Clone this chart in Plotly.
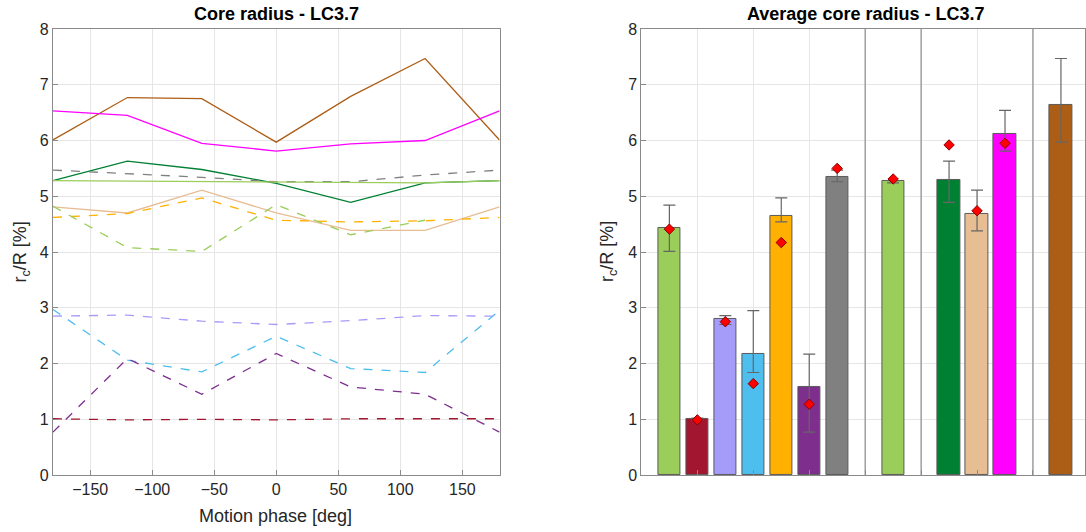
import plotly.graph_objects as go

# ---------------- data ----------------
phase = [-180, -120, -60, 0, 60, 120, 180]

line_names = ["brown", "magenta", "dkgreen", "gray", "ltgreen", "tan", "orange",
              "ltgreen_d", "ltblue", "lavender", "purple", "dkred"]
line_vals = {
    "brown":     [6.01, 6.77, 6.75, 5.97, 6.79, 7.47, 6.01],
    "magenta":   [6.53, 6.45, 5.95, 5.81, 5.94, 6.00, 6.53],
    "dkgreen":   [5.28, 5.63, 5.48, 5.23, 4.89, 5.24, 5.28],
    "gray":      [5.47, 5.41, 5.34, 5.26, 5.26, 5.38, 5.47],
    "ltgreen":   [5.28, 5.27, 5.27, 5.26, 5.25, 5.24, 5.28],
    "tan":       [4.81, 4.70, 5.11, 4.70, 4.39, 4.39, 4.81],
    "orange":    [4.62, 4.69, 4.97, 4.57, 4.54, 4.56, 4.62],
    "ltgreen_d": [4.82, 4.08, 4.01, 4.85, 4.31, 4.57, None],
    "ltblue":    [2.97, 2.06, 1.85, 2.49, 1.91, 1.84, 2.95],
    "lavender":  [2.85, 2.87, 2.76, 2.70, 2.77, 2.86, 2.85],
    "purple":    [0.77, 2.09, 1.45, 2.18, 1.58, 1.45, 0.77],
    "dkred":     [1.01, 0.99, 1.00, 0.99, 1.01, 1.01, 1.01],
}
line_dash = {
    "brown": "solid", "magenta": "solid", "dkgreen": "solid", "gray": "dash",
    "ltgreen": "solid", "tan": "solid", "orange": "dash", "ltgreen_d": "dash",
    "ltblue": "dash", "lavender": "dash", "purple": "dash", "dkred": "dash",
}
colors = {
    "brown": "#AD5E16", "magenta": "#FF00FF", "dkgreen": "#008033", "gray": "#808080",
    "ltgreen": "#9BCD5B", "tan": "#E7BD93", "orange": "#FFB000", "ltgreen_d": "#9BCD5B",
    "ltblue": "#4DBEEE", "lavender": "#A59CFA", "purple": "#7E2F8E", "dkred": "#A2162F",
}

# bar chart
bar_pos = [1, 2, 3, 4, 5, 6, 7, 9, 11, 12, 13, 15]
bar_key = ["ltgreen_d", "dkred", "lavender", "ltblue", "orange", "purple", "gray",
           "ltgreen", "dkgreen", "tan", "magenta", "brown"]
bar_mean = [4.44, 1.00, 2.80, 2.17, 4.65, 1.58, 5.35, 5.27, 5.29, 4.68, 6.11, 6.63]
bar_max = [4.84, 1.02, 2.86, 2.95, 4.97, 2.17, 5.47, 5.28, 5.63, 5.11, 6.54, 7.47]
bar_min = [4.01, 0.99, 2.70, 1.84, 4.54, 0.77, 5.26, 5.24, 4.89, 4.38, 5.81, 5.97]
diamond = [4.41, 0.99, 2.75, 1.64, 4.17, 1.27, 5.50, 5.31, 5.92, 4.74, 5.95, None]
separators = [8, 10, 14]

# ---------------- figure ----------------
FONT = "Liberation Sans, Arial, sans-serif"
TXT = "#262626"
AX = "#8a8a8a"
GRID = "#e6e6e6"

fig = go.Figure()

for k in line_names:
    fig.add_trace(go.Scatter(
        x=phase, y=line_vals[k], mode="lines",
        line=dict(color=colors[k], width=1.3, dash=line_dash[k]),
        xaxis="x", yaxis="y", showlegend=False, connectgaps=False))

fig.add_trace(go.Bar(
    x=bar_pos, y=bar_mean, width=0.8,
    marker=dict(color=[colors[k] for k in bar_key], line=dict(color="#5a5a5a", width=1)),
    error_y=dict(type="data", symmetric=False,
                 array=[a - m for a, m in zip(bar_max, bar_mean)],
                 arrayminus=[m - b for m, b in zip(bar_mean, bar_min)],
                 color="#666666", thickness=1.2, width=6),
    xaxis="x2", yaxis="y2", showlegend=False))

fig.add_trace(go.Scatter(
    x=bar_pos, y=diamond, mode="markers",
    marker=dict(symbol="diamond", size=8, color="#FF0000",
                line=dict(color="#8B0000", width=1)),
    xaxis="x2", yaxis="y2", showlegend=False))

for s in separators:
    fig.add_shape(type="line", xref="x2", yref="y2", x0=s, x1=s, y0=0, y1=8,
                  line=dict(color="#8c8c8c", width=1.2))

common_axis = dict(showline=True, linecolor=AX, linewidth=1, mirror=True,
                   ticks="inside", ticklen=5, tickcolor=AX,
                   showgrid=True, gridcolor=GRID, gridwidth=1, zeroline=False,
                   tickfont=dict(family=FONT, size=16, color=TXT))


def fy(px):
    # vertical paper fraction for a target pixel row
    return 1 - (px - 8) / 516


ydom = [fy(476), fy(29)]
fig.update_layout(
    width=1086, height=532,
    margin=dict(l=0, r=0, t=0, b=0),
    paper_bgcolor="white", plot_bgcolor="white",
    bargap=0,
    xaxis=dict(domain=[53 / 1086, 500 / 1086], range=[-180, 180],
               tickvals=[-150, -100, -50, 0, 50, 100, 150], anchor="y", **common_axis),
    yaxis=dict(domain=ydom, range=[0, 8], dtick=1, anchor="x", **common_axis),
    xaxis2=dict(domain=[642 / 1086, 1.0], range=[0, 15.86],
                tickvals=[0, 2, 4, 6, 8, 10, 12, 14, 16], showticklabels=False,
                anchor="y2", **common_axis),
    yaxis2=dict(domain=ydom, range=[0, 8], dtick=1, anchor="x2", **common_axis),
    annotations=[
        dict(text="<b>Core radius - LC3.7</b>", x=277 / 1086, y=fy(14),
             xref="paper", yref="paper", showarrow=False,
             font=dict(family=FONT, size=18, color="black"), xanchor="center", yanchor="middle"),
        dict(text="<b>Average core radius - LC3.7</b>", x=866 / 1086, y=fy(14),
             xref="paper", yref="paper", showarrow=False,
             font=dict(family=FONT, size=18, color="black"), xanchor="center", yanchor="middle"),
        dict(text="Motion phase [deg]", x=276 / 1086, y=fy(517),
             xref="paper", yref="paper", showarrow=False,
             font=dict(family=FONT, size=18, color=TXT), xanchor="center", yanchor="middle"),
        dict(text="r<sub>c</sub>/R [%]", x=22 / 1086, y=fy(252), textangle=-90,
             xref="paper", yref="paper", showarrow=False,
             font=dict(family=FONT, size=18, color=TXT), xanchor="center", yanchor="middle"),
        dict(text="r<sub>c</sub>/R [%]", x=609 / 1086, y=fy(252), textangle=-90,
             xref="paper", yref="paper", showarrow=False,
             font=dict(family=FONT, size=18, color=TXT), xanchor="center", yanchor="middle"),
    ],
)

fig.write_html("out.html")
